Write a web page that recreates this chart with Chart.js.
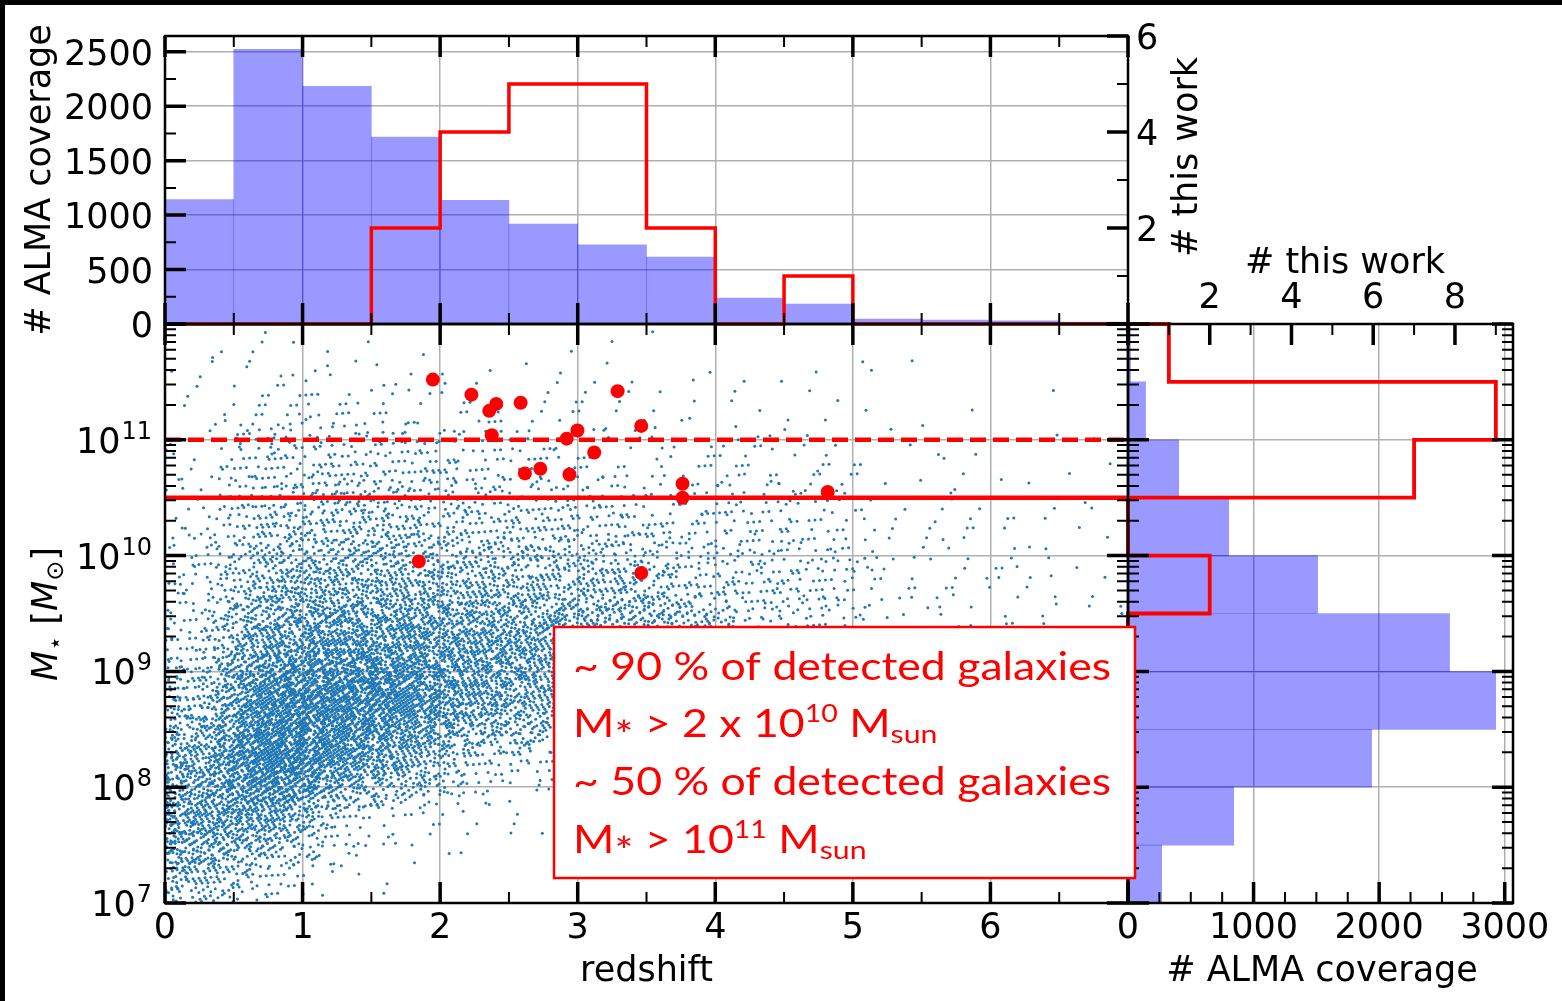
<!DOCTYPE html>
<html>
<head>
<meta charset="utf-8">
<script src="https://cdn.jsdelivr.net/npm/chart.js@4.4.1/dist/chart.umd.min.js"></script>
<style>
  html, body { margin: 0; padding: 0; background: #fff; }
  #stage { position: relative; width: 1562px; height: 1001px; overflow: hidden; background: #fff; }
  #stage canvas { position: absolute; left: 0; top: 0; }
  .edge { position: absolute; background: #000; }
</style>
</head>
<body>
<div id="stage">
  <canvas id="massHist" width="1562" height="1001"></canvas>
  <canvas id="zHist" width="1562" height="1001"></canvas>
  <canvas id="mainPlot" width="1562" height="1001"></canvas>
  <div class="edge" style="left:0;top:0;width:1562px;height:5px"></div>
  <div class="edge" style="left:0;top:0;width:5px;height:1001px"></div>
</div>
<script>
// redshift bins (0.5 wide)
const zEdges = [0, 0.5, 1, 1.5, 2, 2.5, 3, 3.5, 4, 4.5, 5, 5.5, 6, 6.5, 7];
const almaPerZ = [1142, 2523, 2183, 1717, 1136, 918, 726, 615, 239, 184, 46, 37, 28, 18];
const detectedPerZ = [0, 0, 0, 2, 4, 5, 5, 2, 0, 1, 0, 0, 0, 0];

// stellar mass bins (0.5 dex in log M)
const logMassEdges = [7, 7.5, 8, 8.5, 9, 9.5, 10, 10.5, 11, 11.5, 12];
const almaPerMass = [268, 842, 1940, 2928, 2561, 1510, 802, 404, 140, 20];
const detectedPerMass = [0, 0, 0, 0, 0, 2, 0, 7, 9, 1];

// detected galaxies
const detectedZ = [1.947, 2.227, 2.357, 2.408, 2.585, 2.375, 2.616, 2.728, 1.845, 3.29,
                   3.462, 2.998, 2.92, 3.12, 2.94, 3.762, 3.762, 4.817, 3.462];
const detectedLogMass = [11.52, 11.39, 11.25, 11.31, 11.32, 11.04, 10.71, 10.75, 9.95, 11.42,
                         11.12, 11.08, 11.01, 10.89, 10.70, 10.62, 10.50, 10.55, 9.85];

// ALMA-covered sources per cell: rows = log M bins (7.0 ... 11.5), cols = z bins (0 ... 6.5)
const coverageCounts = [
  [200,  60,   5,   2,   0,   0,   0,   0,  0,  0,  0,  0, 0, 0],
  [380, 350,  80,  20,   5,   8,   0,   0,  0,  0,  0,  0, 0, 0],
  [260, 760, 530, 290,  83,  50,  20,  20,  3,  2,  0,  0, 0, 0],
  [130, 600, 680, 560, 340, 242, 170, 160, 30, 20,  5,  4, 3, 0],
  [ 70, 330, 420, 400, 350, 310, 290, 250, 60, 45, 12, 10, 8, 4],
  [ 40, 200, 230, 230, 193, 175, 150, 110, 70, 60, 18, 15, 12, 7],
  [ 25, 115, 125, 120,  95,  90,  70,  55, 50, 40, 12, 11, 9, 6],
  [ 15,  70,  80,  70,  50,  35,  22,  20, 22, 18,  5,  4, 4, 2],
  [  8,  28,  25,  22,  18,  14,  10,   7,  8,  6,  2,  2, 1, 1],
  [  2,   8,   5,   3,   2,   1,   1,   1,  1,  1,  1,  0, 0, 0]
];

// mass thresholds (log M)
const massCutLow = 10.5;
const massCutHigh = 11;

// tick labels
const zTickLabels = ['0', '1', '2', '3', '4', '5', '6'];
const almaZTicks = [0, 500, 1000, 1500, 2000, 2500];
const detectedZTicks = [2, 4, 6];
const massTickExps = [7, 8, 9, 10, 11];
const almaMassTicks = [0, 1000, 2000, 3000];
const detectedMassTicks = [2, 4, 6, 8];

const noteLines = [
  [['~ 90 % of detected galaxies', 'n']],
  [['M', 'n'], ['*', 'star'], [' > 2 x 10', 'n'], ['10', 'sup'], [' M', 'n'], ['sun', 'sub']],
  [['~ 50 % of detected galaxies', 'n']],
  [['M', 'n'], ['*', 'star'], [' > 10', 'n'], ['11', 'sup'], [' M', 'n'], ['sun', 'sub']]
];

Chart.defaults.font.family = '"DejaVu Sans"';
Chart.defaults.plugins.legend.display = false;
Chart.defaults.plugins.tooltip.enabled = false;

const RED = '#ff0000';
const HIST_BLUE = 'rgba(0, 0, 255, 0.4)';
const DOT_BLUE = '#1f77b4';
const FONT = '35px "DejaVu Sans"';

const range = (a, b, step) => { const out = []; for (let v = a; v <= b + 1e-9; v += step) out.push(+v.toFixed(6)); return out; };
const logMajors = range(7, 12, 1).map(e => Math.pow(10, e));
const logMinors = [];
for (let e = 7; e < 12; e++) for (let m = 2; m <= 9; m++) logMinors.push(m * Math.pow(10, e));

function scaleCfg(type, min, max, vertical, gridValues, extra) {
  return Object.assign({
    type, min, max, offset: false,
    grid: { display: !!gridValues, color: '#b0b0b0', lineWidth: 1.5, drawTicks: false, offset: false },
    border: { display: false },
    ticks: { display: false },
    afterBuildTicks: gridValues ? s => { s.ticks = gridValues.map(v => ({ value: v })); } : undefined,
    afterFit: s => { if (vertical) s.width = 0; else s.height = 0; }
  }, extra || {});
}

function tickMarks(ctx, scale, a, side, values, len, width) {
  ctx.lineWidth = width;
  ctx.beginPath();
  values.forEach(v => {
    const p = scale.getPixelForValue(v);
    if (side === 'left') { ctx.moveTo(a.left, p); ctx.lineTo(a.left + len, p); }
    else if (side === 'right') { ctx.moveTo(a.right, p); ctx.lineTo(a.right - len, p); }
    else if (side === 'bottom') { ctx.moveTo(p, a.bottom); ctx.lineTo(p, a.bottom - len); }
    else { ctx.moveTo(p, a.top); ctx.lineTo(p, a.top + len); }
  });
  ctx.stroke();
}

function frameAndTicks(chart, spec) {
  const { ctx, chartArea: a } = chart;
  ctx.save();
  ctx.strokeStyle = '#000';
  spec.forEach(([id, side, majors, minors]) => {
    tickMarks(ctx, chart.scales[id], a, side, majors, 21, 3.5);
    tickMarks(ctx, chart.scales[id], a, side, minors, 11, 2);
  });
  ctx.lineWidth = 2.5;
  ctx.strokeRect(a.left, a.top, a.right - a.left, a.bottom - a.top);
  ctx.restore();
}

function text(ctx, str, x, y, align, font) {
  ctx.font = font || FONT;
  ctx.textAlign = align;
  ctx.textBaseline = 'alphabetic';
  ctx.fillStyle = '#000';
  ctx.fillText(str, x, y);
}

function vtext(ctx, str, x, y) {
  ctx.save();
  ctx.translate(x, y);
  ctx.rotate(-Math.PI / 2);
  text(ctx, str, 0, 0, 'center');
  ctx.restore();
}

// ---------- redshift histogram (top) ----------
const zBars = almaPerZ.map((n, i) => ({ x: (zEdges[i] + zEdges[i + 1]) / 2, y: n }));
const zSteps = detectedPerZ.map((n, i) => ({ x: zEdges[i], y: n }));
zSteps.push({ x: zEdges[zEdges.length - 1], y: detectedPerZ[detectedPerZ.length - 1] });

new Chart(document.getElementById('zHist'), {
  type: 'bar',
  data: {
    datasets: [
      { type: 'line', data: zSteps, yAxisID: 'y2', stepped: 'before', borderColor: RED,
        borderWidth: 3.5, pointRadius: 0, fill: false, order: 0, clip: false },
      { data: zBars, yAxisID: 'y', backgroundColor: HIST_BLUE, borderWidth: 0,
        barPercentage: 1, categoryPercentage: 1, order: 1 }
    ]
  },
  options: {
    responsive: false, animation: false, events: [], devicePixelRatio: 1,
    layout: { padding: { left: 165, top: 36, right: 434, bottom: 677 } },
    scales: {
      x: scaleCfg('linear', 0, 7, false, range(1, 6, 1), { position: 'bottom' }),
      y: scaleCfg('linear', 0, 2645, true, range(500, 2500, 500), { position: 'left' }),
      y2: scaleCfg('linear', 0, 6, true, null, { position: 'right' })
    }
  },
  plugins: [{
    id: 'zHistAxes',
    afterDraw(chart) {
      const { ctx } = chart;
      frameAndTicks(chart, [
        ['x', 'bottom', range(0, 7, 1), range(0.5, 6.5, 1)],
        ['x', 'top', range(0, 7, 1), range(0.5, 6.5, 1)],
        ['y', 'left', almaZTicks, range(250, 2250, 500)],
        ['y2', 'right', [0, 2, 4, 6], [1, 3, 5]]
      ]);
      almaZTicks.forEach(v => text(ctx, String(v), 153, chart.scales.y.getPixelForValue(v) + 13, 'right'));
      detectedZTicks.forEach(v => text(ctx, String(v), 1136, chart.scales.y2.getPixelForValue(v) + 13, 'left'));
      vtext(ctx, '# ALMA coverage', 50, 180);
      vtext(ctx, '# this work', 1197, 157);
    }
  }]
});

// ---------- stellar mass histogram (right) ----------
const mBars = almaPerMass.map((n, i) => ({ x: n, y: Math.pow(10, (logMassEdges[i] + logMassEdges[i + 1]) / 2) }));
const mSteps = detectedPerMass.map((n, i) => ({ x: n, y: Math.pow(10, logMassEdges[i]) }));
mSteps.push({ x: detectedPerMass[detectedPerMass.length - 1], y: Math.pow(10, logMassEdges[logMassEdges.length - 1]) });
mSteps.push({ x: 0, y: Math.pow(10, logMassEdges[logMassEdges.length - 1]) });

new Chart(document.getElementById('massHist'), {
  type: 'bar',
  data: {
    datasets: [
      { type: 'line', indexAxis: 'y', data: mSteps, xAxisID: 'x2', yAxisID: 'y', stepped: 'after',
        borderColor: RED, borderWidth: 3.8, pointRadius: 0, fill: false, order: 0, clip: false },
      { data: mBars, xAxisID: 'x', yAxisID: 'y', backgroundColor: HIST_BLUE, borderWidth: 0,
        barPercentage: 1, categoryPercentage: 1, order: 1 }
    ]
  },
  options: {
    indexAxis: 'y',
    responsive: false, animation: false, events: [], devicePixelRatio: 1,
    layout: { padding: { left: 1128, top: 324, right: 49, bottom: 98 } },
    scales: {
      x: scaleCfg('linear', 0, 3066, false, [1000, 2000, 3000], { position: 'bottom' }),
      x2: scaleCfg('linear', 0, 9.42, false, null, { position: 'top' }),
      y: scaleCfg('logarithmic', 1e7, 1e12, true, [1e8, 1e9, 1e10, 1e11], { position: 'left' })
    }
  },
  plugins: [{
    id: 'massHistAxes',
    afterDraw(chart) {
      const { ctx } = chart;
      frameAndTicks(chart, [
        ['x', 'bottom', almaMassTicks, range(250, 2750, 250).filter(v => v % 1000 !== 0)],
        ['x2', 'top', [0, 2, 4, 6, 8], [1, 3, 5, 7, 9]],
        ['y', 'left', logMajors, logMinors],
        ['y', 'right', logMajors, logMinors]
      ]);
      almaMassTicks.forEach(v => text(ctx, String(v), chart.scales.x.getPixelForValue(v), 938, 'center'));
      detectedMassTicks.forEach(v => text(ctx, String(v), chart.scales.x2.getPixelForValue(v), 308, 'center'));
      text(ctx, '# ALMA coverage', 1322, 981, 'center');
      text(ctx, '# this work', 1345, 273, 'center');
    }
  }]
});

// ---------- redshift vs stellar mass (main) ----------
// each cell's sources are laid out with a tent-shaped low-discrepancy fill reaching into
// the neighbouring cells, so the cloud's density blends smoothly between cells
const KRONECKER = [0.8566748838545, 0.7338918566271, 0.6287067210378, 0.5385972572236];
const coverage = [];
let seq = 0;
coverageCounts.forEach((row, i) => row.forEach((n, j) => {
  const zc = (zEdges[j] + zEdges[j + 1]) / 2;
  const mc = (logMassEdges[i] + logMassEdges[i + 1]) / 2;
  for (let k = 0; k < n; k++) {
    seq++;
    const q = KRONECKER.map(a => (0.5 + seq * a) % 1);
    let z = zc + (q[0] + q[1] - 1) * 0.5;
    if (z < 0) z = -z;
    const lm = mc + (q[2] + q[3] - 1) * 0.5;
    coverage.push({ x: z, y: Math.pow(10, lm) });
  }
}));
const detected = detectedZ.map((z, i) => ({ x: z, y: Math.pow(10, detectedLogMass[i]) }));
const cutLine = lm => [{ x: 0, y: Math.pow(10, lm) }, { x: 7, y: Math.pow(10, lm) }];

function drawPow(ctx, exp, xRight, y) {
  ctx.font = '24px "DejaVu Sans"';
  const sw = ctx.measureText(String(exp)).width;
  text(ctx, String(exp), xRight - sw, y - 1, 'left', '24px "DejaVu Sans"');
  text(ctx, '10', xRight - sw - 1, y + 13, 'right');
}

function drawMassTitle(ctx) {
  const parts = [
    ['M', 'italic 35px "DejaVu Sans"', 0],
    ['\u22C6', '24px "DejaVu Sans"', 6],
    [' [', FONT, 0],
    ['M', 'italic 35px "DejaVu Sans"', 0],
    ['\u2299', '24px "DejaVu Sans"', 6],
    [']', FONT, 0]
  ];
  ctx.save();
  ctx.translate(57, 614);
  ctx.rotate(-Math.PI / 2);
  let total = 0;
  parts.forEach(([t, f]) => { ctx.font = f; total += ctx.measureText(t).width; });
  let x = -total / 2;
  parts.forEach(([t, f, dy]) => {
    text(ctx, t, x, dy, 'left', f);
    ctx.font = f;
    x += ctx.measureText(t).width;
  });
  ctx.restore();
}

function drawNote(ctx) {
  const L = 554, T = 627, R = 1135, B = 878;
  const baselines = [680, 737, 795, 853];
  const base = 38;
  const style = { n: [base, 0], sup: [base * 0.64, -15], sub: [base * 0.68, 6], star: [base, 12] };
  ctx.save();
  ctx.fillStyle = '#fff';
  ctx.fillRect(L, T, R - L, B - T);
  ctx.strokeStyle = RED;
  ctx.lineWidth = 2.5;
  ctx.strokeRect(L, T, R - L, B - T);
  ctx.font = base + 'px Lato';
  const sx = 538 / ctx.measureText(noteLines[0][0][0]).width;
  ctx.fillStyle = RED;
  ctx.textAlign = 'left';
  ctx.textBaseline = 'alphabetic';
  noteLines.forEach((runs, i) => {
    ctx.save();
    ctx.translate(573, baselines[i]);
    ctx.scale(sx, 1);
    let x = 0;
    runs.forEach(([t, k]) => {
      const [size, dy] = style[k];
      ctx.font = size + 'px Lato';
      ctx.fillText(t, x, dy);
      x += ctx.measureText(t).width;
    });
    ctx.restore();
  });
  ctx.restore();
}

new Chart(document.getElementById('mainPlot'), {
  type: 'scatter',
  data: {
    datasets: [
      { data: detected, pointRadius: 7, backgroundColor: RED, borderWidth: 0, order: 0 },
      { type: 'line', data: cutLine(massCutHigh), borderColor: RED, borderWidth: 4.5,
        borderDash: [16, 7], pointRadius: 0, order: 1 },
      { type: 'line', data: cutLine(massCutLow), borderColor: RED, borderWidth: 4.5,
        pointRadius: 0, order: 1 },
      { data: coverage, pointRadius: 1.5, backgroundColor: DOT_BLUE, borderWidth: 0, order: 3 }
    ]
  },
  options: {
    responsive: false, animation: false, events: [], devicePixelRatio: 1,
    layout: { padding: { left: 165, top: 324, right: 434, bottom: 98 } },
    scales: {
      x: scaleCfg('linear', 0, 7, false, range(1, 6, 1), { position: 'bottom' }),
      y: scaleCfg('logarithmic', 1e7, 1e12, true, [1e8, 1e9, 1e10, 1e11], { position: 'left' })
    }
  },
  plugins: [{
    id: 'mainAxes',
    afterDraw(chart) {
      const { ctx } = chart;
      frameAndTicks(chart, [
        ['x', 'bottom', range(0, 7, 1), range(0.5, 6.5, 1)],
        ['x', 'top', range(0, 7, 1), range(0.5, 6.5, 1)],
        ['y', 'left', logMajors, logMinors],
        ['y', 'right', logMajors, logMinors]
      ]);
      zTickLabels.forEach((t, i) => text(ctx, t, chart.scales.x.getPixelForValue(i), 938, 'center'));
      massTickExps.forEach(e => drawPow(ctx, e, 152, chart.scales.y.getPixelForValue(Math.pow(10, e))));
      text(ctx, 'redshift', 646.5, 981, 'center');
      drawMassTitle(ctx);
      drawNote(ctx);
    }
  }]
});
</script>
</body>
</html>
